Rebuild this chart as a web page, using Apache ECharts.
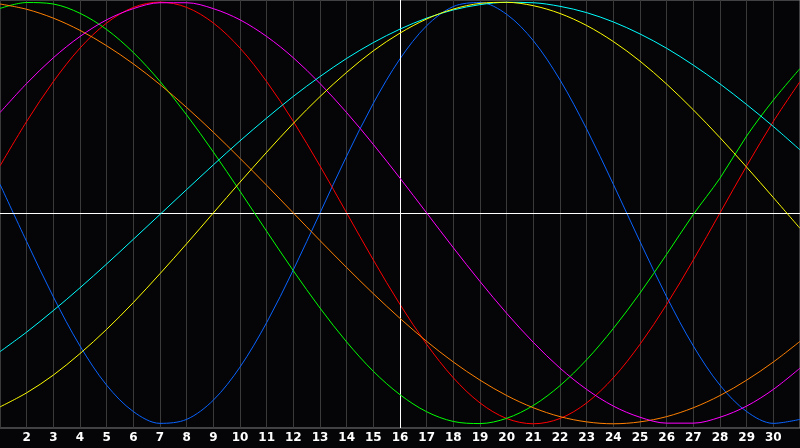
<!DOCTYPE html>
<html>
<head>
<meta charset="utf-8">
<script src="https://cdn.jsdelivr.net/npm/echarts@6/dist/echarts.min.js"></script>
<style>
  html, body { margin: 0; padding: 0; background: #050508; }
  #chart { width: 800px; height: 448px; }
</style>
</head>
<body>
<div id="chart"></div>
<script>
const days = Array.from({ length: 31 }, (_, i) => String(i + 1))

// values, one per day
const physical = [0.136, -0.136, -0.398, -0.631, -0.817, -0.942, -0.998, -0.979, -0.888, -0.731,
  -0.520, -0.270, 0, 0.270, 0.520, 0.731, 0.888, 0.979, 0.998, 0.942,
  0.817, 0.631, 0.398, 0.136, -0.136, -0.398, -0.631, -0.817, -0.942, -0.998, -0.979]
const emotional = [0.223, 0.434, 0.623, 0.782, 0.901, 0.975, 1, 0.975, 0.901, 0.782,
  0.623, 0.434, 0.223, 0, -0.223, -0.434, -0.623, -0.782, -0.901, -0.975,
  -1, -0.975, -0.901, -0.782, -0.623, -0.434, -0.223, 0, 0.223, 0.434, 0.623]
const intellectual = [0.970, 0.998, 0.991, 0.947, 0.870, 0.761, 0.624, 0.465, 0.289, 0.103,
  -0.087, -0.274, -0.451, -0.612, -0.751, -0.862, -0.943, -0.989, -0.999, -0.974,
  -0.913, -0.819, -0.696, -0.548, -0.380, -0.196, -0.007, 0.165, 0.365, 0.535, 0.685]
const intuitive = [0.476, 0.614, 0.736, 0.837, 0.916, 0.969, 0.997, 0.997, 0.969, 0.916,
  0.837, 0.736, 0.614, 0.476, 0.325, 0.165, 0, -0.165, -0.325, -0.476,
  -0.614, -0.736, -0.837, -0.916, -0.969, -0.997, -0.997, -0.969, -0.916, -0.837, -0.736]
const awareness = [0.991, 0.966, 0.924, 0.866, 0.793, 0.707, 0.609, 0.5, 0.383, 0.259,
  0.131, 0, -0.131, -0.259, -0.383, -0.5, -0.609, -0.707, -0.793, -0.866,
  -0.924, -0.966, -0.991, -1, -0.991, -0.966, -0.924, -0.866, -0.793, -0.707, -0.609]
const spiritual = [-0.658, -0.565, -0.463, -0.355, -0.242, -0.125, -0.007, 0.111, 0.228, 0.342,
  0.450, 0.553, 0.647, 0.733, 0.808, 0.872, 0.924, 0.963, 0.988, 0.999,
  0.997, 0.980, 0.950, 0.906, 0.849, 0.781, 0.701, 0.612, 0.514, 0.410, 0.299]
const aesthetic = [-0.920, -0.853, -0.769, -0.667, -0.552, -0.425, -0.288, -0.146, 0, 0.146,
  0.288, 0.425, 0.552, 0.667, 0.769, 0.853, 0.920, 0.967, 0.994, 0.999,
  0.983, 0.946, 0.889, 0.813, 0.720, 0.611, 0.489, 0.357, 0.217, 0.073, -0.073]

const today = '16'

const lines = [
  { name: 'physical', data: physical, color: '#0a64ff' },
  { name: 'emotional', data: emotional, color: '#ff0000' },
  { name: 'intellectual', data: intellectual, color: '#00ff00' },
  { name: 'awareness', data: awareness, color: '#ff8000' },
  { name: 'intuitive', data: intuitive, color: '#ff00ff' },
  { name: 'spiritual', data: spiritual, color: '#00ffff' },
  { name: 'aesthetic', data: aesthetic, color: '#ffff00' }
]

const chart = echarts.init(document.getElementById('chart'))
chart.setOption({
  backgroundColor: '#050508',
  animation: false,
  grid: {
    left: 0, right: 0, top: 0, bottom: 20,
    containLabel: false,
    outerBoundsMode: 'none',
    show: true, borderColor: '#808080', borderWidth: 1
  },
  xAxis: {
    type: 'category',
    data: days,
    boundaryGap: false,
    axisLine: { show: true, lineStyle: { color: '#808080' } },
    axisTick: { show: false },
    axisLabel: {
      interval: idx => idx > 0 && idx < days.length - 1,
      color: '#ffffff',
      fontWeight: 'bold',
      fontSize: 12,
      fontFamily: 'DejaVu Sans',
      margin: 4
    },
    splitLine: { show: true, interval: 0, lineStyle: { color: '#3a3a3a', width: 1 } }
  },
  yAxis: {
    type: 'value',
    min: -1.02,
    max: 1.01,
    axisLine: { show: false },
    axisTick: { show: false },
    axisLabel: { show: false },
    splitLine: { show: false }
  },
  series: lines.map((l, i) => ({
    name: l.name,
    type: 'line',
    data: l.data,
    smooth: 0.33,
    symbol: 'none',
    lineStyle: { color: l.color, width: 1 },
    itemStyle: { color: l.color },
    z: 3 + i,
    markLine: i === 0 ? {
      silent: true,
      symbol: 'none',
      label: { show: false },
      lineStyle: { color: '#ffffff', width: 1, type: 'solid' },
      data: [{ xAxis: today }, { yAxis: 0 }]
    } : undefined
  }))
})
</script>
</body>
</html>
